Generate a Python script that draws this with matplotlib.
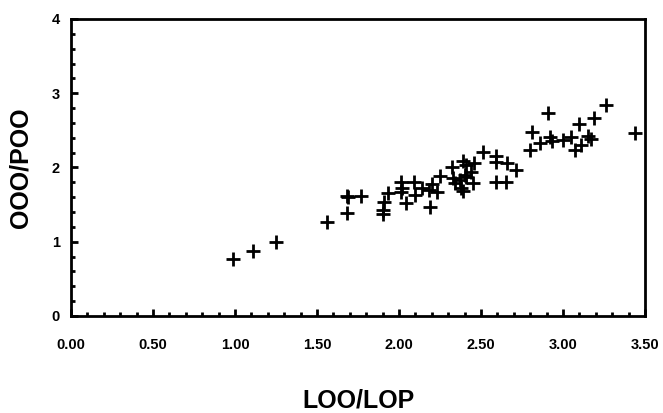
import matplotlib
matplotlib.use('Agg')
import matplotlib.pyplot as plt
from matplotlib.ticker import MultipleLocator, FormatStrFormatter

# LOO/LOP vs OOO/POO ratios
loo_lop = [0.99, 1.11, 1.25, 1.56, 1.68, 1.68, 1.69, 1.77, 1.90, 1.90,
           1.91, 1.93, 2.01, 2.02, 2.01, 2.04, 2.09, 2.10, 2.14, 2.18,
           2.19, 2.20, 2.23, 2.25, 2.32, 2.33, 2.34, 2.37, 2.38, 2.39,
           2.40, 2.41, 2.44, 2.45, 2.46, 2.51, 2.59, 2.59, 2.59, 2.65,
           2.66, 2.71, 2.80, 2.81, 2.86, 2.91, 2.92, 2.93, 3.00, 3.05,
           3.07, 3.10, 3.11, 3.15, 3.17, 3.19, 3.26, 3.44, 2.39, 2.41]
ooo_poo = [0.77, 0.88, 1.00, 1.26, 1.39, 1.62, 1.60, 1.61, 1.37, 1.43,
           1.54, 1.66, 1.81, 1.73, 1.67, 1.52, 1.81, 1.63, 1.72, 1.70,
           1.47, 1.78, 1.67, 1.89, 2.00, 1.86, 1.79, 1.83, 1.72, 2.09,
           1.90, 2.04, 1.94, 1.79, 2.06, 2.21, 2.16, 2.07, 1.80, 1.81,
           2.06, 1.97, 2.24, 2.48, 2.33, 2.74, 2.41, 2.35, 2.37, 2.41,
           2.23, 2.59, 2.30, 2.43, 2.39, 2.67, 2.84, 2.47, 1.68, 1.87]

x_ticks = [0.0, 0.5, 1.0, 1.5, 2.0, 2.5, 3.0, 3.5]
y_ticks = [0, 1, 2, 3, 4]

plt.rcParams['font.family'] = ['Liberation Sans', 'DejaVu Sans']

fig = plt.figure(figsize=(6.63, 4.13), dpi=100)
ax = fig.add_axes([0.107, 0.235, 0.866, 0.719])

ax.plot(loo_lop, ooo_poo, linestyle='none', marker='+', color='black',
        markersize=9.5, markeredgewidth=2.0)

ax.set_xlim(0, 3.5)
ax.set_ylim(0, 4)
ax.set_xticks(x_ticks)
ax.set_yticks(y_ticks)
ax.xaxis.set_major_formatter(FormatStrFormatter('%.2f'))
ax.xaxis.set_minor_locator(MultipleLocator(0.1))
ax.yaxis.set_minor_locator(MultipleLocator(0.2))

for s in ax.spines.values():
    s.set_linewidth(2.0)

ax.tick_params(which='both', direction='in', top=False, right=False, width=2.0)
ax.tick_params(which='major', length=5)
ax.tick_params(which='minor', length=3)
ax.tick_params(axis='x', which='major', pad=16)
ax.tick_params(axis='y', which='major', pad=8)
for lab in ax.get_xticklabels() + ax.get_yticklabels():
    lab.set_fontweight('bold')
    lab.set_fontsize(10.5)

ax.set_xlabel('LOO/LOP', fontsize=18, fontweight='bold', labelpad=26)
ax.set_ylabel('OOO/POO', fontsize=18, fontweight='bold', labelpad=14)

fig.savefig('out.png', dpi=100)
